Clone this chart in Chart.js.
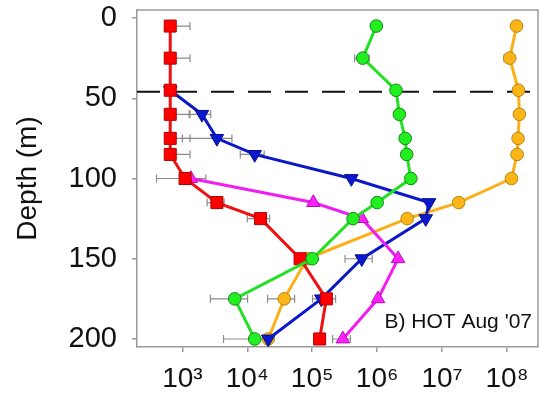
<!DOCTYPE html>
<html>
<head>
<meta charset="utf-8">
<script src="https://cdn.jsdelivr.net/npm/chart.js@4.4.1/dist/chart.umd.min.js"></script>
<style>
  html, body { margin: 0; padding: 0; background: #fff; }
  #wrap { width: 540px; height: 404px; }
</style>
</head>
<body>
<div id="wrap"><canvas id="chart"></canvas></div>
<script>
// depths (m) sampled for each profile
const depthsFull = [5, 25, 45, 60, 75, 85, 100, 115, 125, 150, 175, 200];
const depthsBlue = [45, 60, 75, 85, 100, 115, 125, 150, 175, 200];
const depthsMagenta = [100, 115, 125, 150, 175, 200];

// abundances, with +/- spread (linear units, null = no bar)
const greenValues = [9.7e5, 6.0e5, 1.95e6, 2.2e6, 2.7e6, 2.85e6, 3.3e6, 1.0e6, 4.25e5, 1.0e5, 6.4e3, 1.3e4];
const greenErr = [null, 1.5e5, null, null, null, null, null, null, null, null, 3700, 8700];

const redValues = [650, 650, 650, 650, 650, 650, 1100, 3400, 1.6e4, 6.5e4, 1.65e5, 1.3e5];
const redErr = [660, 660, null, 660, 660, 660, null, 1000, 6000, null, 6.4e4, null];

const magentaValues = [1350, 1.04e5, 5.8e5, 2.1e6, 1.03e6, 2.96e5];
const magentaErr = [950, null, null, null, null, 9e4];

const blueValues = [650, 2000, 3400, 1.3e4, 4.0e5, 6.3e6, 5.6e6, 5.8e5, 1.38e5, 2.1e4];
const blueErr = [null, 730, 2400, 5200, null, null, null, 2.6e5, null, null];

const orangeValues = [1.4e8, 1.1e8, 1.5e8, 1.55e8, 1.48e8, 1.43e8, 1.17e8, 1.8e7, 2.9e6, 8.3e4, 3.7e4, 2.1e4];
const orangeErr = [null, 2e7, null, null, null, null, null, null, null, null, 1.65e4, null];

const xTicks = [1e3, 1e4, 1e5, 1e6, 1e7, 1e8];
const xTickLabels = ['10³', '10⁴', '10⁵', '10⁶', '10⁷', '10⁸'];
const yTicks = [0, 50, 100, 150, 200];
const mixedLayerDepth = 46;
const panelLabel = "B) HOT Aug '07";

const FONT = "'Liberation Sans', Arial, sans-serif";
const AXIS_GREY = '#9a9a9a';

function pts(values, depths) {
  return values.map((v, i) => ({ x: v, y: depths[i] }));
}

function series(values, depths, errors, style) {
  return Object.assign({
    data: pts(values, depths),
    errors: errors,
    showLine: true,
    borderWidth: 3,
    pointBorderWidth: 1,
    pointHoverRadius: 0
  }, style);
}

// grey horizontal error bars under the markers
const errorBars = {
  id: 'errorBars',
  beforeDatasetsDraw(chart) {
    const { ctx, scales: { x, y } } = chart;
    ctx.save();
    ctx.strokeStyle = '#8c8c8c';
    ctx.lineWidth = 1.2;
    chart.data.datasets.forEach(ds => {
      if (!ds.errors) return;
      ds.data.forEach((p, i) => {
        const s = ds.errors[i];
        if (!s) return;
        const py = y.getPixelForValue(p.y);
        const px = x.getPixelForValue(p.x);
        const right = x.getPixelForValue(p.x + s);
        const hasLeft = p.x - s > 0;
        const left = hasLeft ? x.getPixelForValue(p.x - s) : px;
        ctx.beginPath();
        ctx.moveTo(left, py);
        ctx.lineTo(right, py);
        ctx.moveTo(right, py - 4);
        ctx.lineTo(right, py + 4);
        if (hasLeft) {
          ctx.moveTo(left, py - 4);
          ctx.lineTo(left, py + 4);
        }
        ctx.stroke();
      });
    });
    ctx.restore();
  }
};

// dashed mixed layer line, box around the plot, panel label
const frame = {
  id: 'frame',
  beforeDatasetsDraw(chart) {
    const { ctx, scales: { x, y } } = chart;
    ctx.save();
    const my = y.getPixelForValue(mixedLayerDepth);
    ctx.strokeStyle = '#111';
    ctx.lineWidth = 2;
    ctx.setLineDash([23, 14]);
    ctx.beginPath();
    ctx.moveTo(x.left, my);
    ctx.lineTo(x.right, my);
    ctx.stroke();
    ctx.restore();
  },
  afterDraw(chart) {
    const { ctx, scales: { x, y } } = chart;
    const top = y.top, bottom = y.bottom, left = x.left, right = x.right;
    ctx.save();
    ctx.fillStyle = AXIS_GREY;
    ctx.fillRect(left, top - 0.75, right - left, 1.5);
    ctx.fillRect(right - 0.75, top - 0.75, 1.5, bottom - top + 0.75);

    ctx.fillStyle = '#111';
    ctx.font = '21px ' + FONT;
    ctx.textAlign = 'right';
    ctx.textBaseline = 'alphabetic';
    ctx.fillText(panelLabel, right - 6, bottom - 19);
    ctx.restore();
  }
};

new Chart(document.getElementById('chart'), {
  type: 'scatter',
  data: {
    datasets: [
      series(greenValues, depthsFull, greenErr, {
        borderColor: '#22e022', pointBackgroundColor: '#22ee22', pointBorderColor: '#138a13',
        pointStyle: 'circle', pointRadius: 6.3
      }),
      series(redValues, depthsFull, redErr, {
        borderColor: '#ee1111', pointBackgroundColor: '#ff0000', pointBorderColor: '#b00000',
        pointStyle: 'rect', pointRadius: 8.5
      }),
      series(magentaValues, depthsMagenta, magentaErr, {
        borderColor: '#f01ef0', pointBackgroundColor: '#ff22ff', pointBorderColor: '#b010b0',
        pointStyle: 'triangle', pointRadius: 7.8
      }),
      series(blueValues, depthsBlue, blueErr, {
        borderColor: '#0b18c8', pointBackgroundColor: '#0b18d0', pointBorderColor: '#06108a',
        pointStyle: 'triangle', pointRotation: 180, pointRadius: 7.8
      }),
      series(orangeValues, depthsFull, orangeErr, {
        borderColor: '#fbb01a', pointBackgroundColor: '#fbb516', pointBorderColor: '#b78512',
        pointStyle: 'circle', pointRadius: 6.3
      })
    ]
  },
  options: {
    responsive: true,
    maintainAspectRatio: false,
    animation: false,
    layout: { autoPadding: false, padding: { top: 10, right: 2, left: 0, bottom: 0 } },
    plugins: {
      legend: { display: false },
      tooltip: { enabled: false }
    },
    scales: {
      x: {
        type: 'logarithmic',
        min: 200,
        max: 3e8,
        afterBuildTicks: s => { s.ticks = xTicks.map(v => ({ value: v })); },
        afterFit: s => { s.height = 57; s.paddingLeft = 0; s.paddingRight = 0; },
        ticks: {
          autoSkip: false,
          maxRotation: 0,
          padding: 10,
          color: '#111',
          font: { family: FONT, size: 28 },
          callback: v => xTickLabels[xTicks.indexOf(v)]
        },
        grid: { drawOnChartArea: false, tickLength: 5, color: AXIS_GREY, lineWidth: 1.5 },
        border: { color: AXIS_GREY, width: 1.5 }
      },
      y: {
        type: 'linear',
        reverse: true,
        min: -5,
        max: 205,
        afterBuildTicks: s => { s.ticks = yTicks.map(v => ({ value: v })); },
        afterFit: s => { s.width = 137; s.paddingTop = 0; s.paddingBottom = 0; },
        ticks: {
          padding: 15,
          color: '#111',
          font: { family: FONT, size: 29 }
        },
        grid: { drawOnChartArea: false, tickLength: 5, color: AXIS_GREY, lineWidth: 1.5 },
        border: { color: AXIS_GREY, width: 1.5 },
        title: {
          display: true,
          text: 'Depth (m)',
          color: '#111',
          padding: { top: 11, bottom: 0 },
          font: { family: FONT, size: 28 }
        }
      }
    }
  },
  plugins: [errorBars, frame]
});
</script>
</body>
</html>
